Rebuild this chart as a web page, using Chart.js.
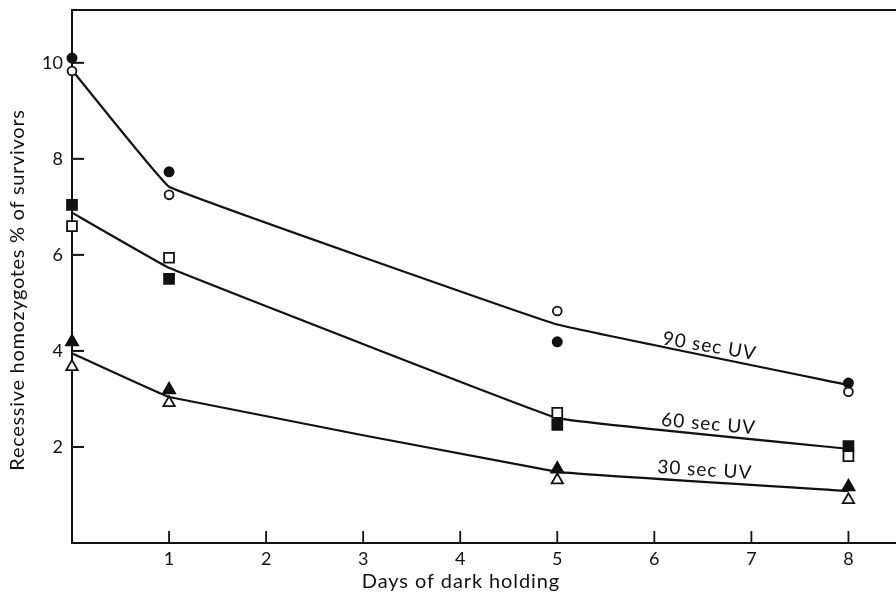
<!DOCTYPE html>
<html>
<head>
<meta charset="utf-8">
<script src="https://cdn.jsdelivr.net/npm/chart.js@4.4.1/dist/chart.umd.min.js"></script>
<style>
  html, body { margin: 0; padding: 0; background: #fff; }
  #wrap { width: 896px; height: 601px; }
  canvas { display: block; }
</style>
</head>
<body>
<div id="wrap"><canvas id="c" width="896" height="601"></canvas></div>
<script>
// Days of dark holding after UV exposure
const days = [0, 1, 5, 8];

// Recessive homozygotes (% of survivors), two replicate series per dose
const uv90Filled = [10.1, 7.73, 4.19, 3.33];
const uv90Open   = [9.83, 7.25, 4.83, 3.15];
const uv60Filled = [7.04, 5.5, 2.46, 2.02];
const uv60Open   = [6.6, 5.94, 2.71, 1.81];
const uv30Filled = [4.19, 3.19, 1.54, 1.17];
const uv30Open   = [3.67, 2.92, 1.31, 0.9];

// Fitted curves through each dose
const uv90Curve = [9.85, 7.42, 4.55, 3.29];
const uv60Curve = [6.88, 5.73, 2.6, 1.96];
const uv30Curve = [3.95, 3.04, 1.48, 1.08];

// Axis ticks
const xTickValues = [1, 2, 3, 4, 5, 6, 7, 8];
const yTickValues = [2, 4, 6, 8, 10];

// Curve labels, placed in data coordinates
const curveLabels     = ['90 sec UV', '60 sec UV', '30 sec UV'];
const curveLabelDay   = [6.57, 6.56, 6.52];
const curveLabelValue = [4.1, 2.48, 1.52];
const curveLabelAngle = [9.5, 5.2, 3.8];

const xTitle = 'Days of dark holding';
const yTitle = 'Recessive homozygotes % of survivors';

const FONT = 'Lato, "Open Sans", sans-serif';
const INK = '#111';

const pts = (ys) => days.map((d, i) => ({ x: d, y: ys[i] }));

function markerSet(ys, style, filled, radius) {
  return {
    data: pts(ys),
    showLine: false,
    pointStyle: style,
    pointRadius: radius,
    pointBackgroundColor: filled ? INK : '#fff',
    pointBorderColor: INK,
    pointBorderWidth: 1.8,
    clip: false,
    order: 1
  };
}

function curveSet(ys) {
  return {
    data: pts(ys),
    borderColor: INK,
    borderWidth: 2.2,
    pointRadius: 0,
    tension: 0.05,
    fill: false,
    clip: false,
    order: 2
  };
}

// Scales keep no extra padding for their labels, so the plot frame sits flush
function noScalePadding(s) {
  s.paddingTop = 0;
  s.paddingBottom = 0;
  s.paddingLeft = 0;
  s.paddingRight = 0;
}

// Inward tick marks, top frame line, axis titles and curve labels
const decorations = {
  id: 'decorations',
  afterDraw(chart) {
    const { ctx, chartArea: a, scales: { x, y } } = chart;
    ctx.save();
    ctx.strokeStyle = INK;
    ctx.lineCap = 'butt';

    ctx.lineWidth = 2;
    ctx.beginPath();
    ctx.moveTo(a.left - 1, a.top);
    ctx.lineTo(a.right, a.top);
    ctx.stroke();

    ctx.lineWidth = 2;
    yTickValues.forEach(v => {
      const py = y.getPixelForValue(v);
      ctx.beginPath();
      ctx.moveTo(a.left, py);
      ctx.lineTo(a.left + 12, py);
      ctx.stroke();
    });
    ctx.lineWidth = 1.8;
    xTickValues.forEach(v => {
      const px = x.getPixelForValue(v);
      ctx.beginPath();
      ctx.moveTo(px, a.bottom);
      ctx.lineTo(px, a.bottom - 12);
      ctx.stroke();
    });

    ctx.fillStyle = INK;
    ctx.textAlign = 'center';
    ctx.textBaseline = 'middle';
    ctx.font = '20px ' + FONT;
    ctx.letterSpacing = '0.9px';
    ctx.fillText(xTitle, 461, 582);

    ctx.save();
    ctx.translate(18, 290);
    ctx.rotate(-Math.PI / 2);
    ctx.letterSpacing = '0.7px';
    ctx.fillText(yTitle, 0, 0);
    ctx.restore();

    ctx.font = '19px ' + FONT;
    ctx.letterSpacing = '1px';
    curveLabels.forEach((t, i) => {
      const px = x.getPixelForValue(curveLabelDay[i]);
      const py = y.getPixelForValue(curveLabelValue[i]);
      ctx.save();
      ctx.translate(px, py);
      ctx.rotate(curveLabelAngle[i] * Math.PI / 180);
      ctx.fillText(t, 0, 0);
      ctx.restore();
    });
    ctx.restore();
  }
};

new Chart(document.getElementById('c'), {
  type: 'line',
  data: {
    datasets: [
      markerSet(uv90Filled, 'circle', true, 4.6),
      markerSet(uv90Open, 'circle', false, 4.4),
      markerSet(uv60Filled, 'rect', true, 7),
      markerSet(uv60Open, 'rect', false, 7),
      markerSet(uv30Filled, 'triangle', true, 7),
      markerSet(uv30Open, 'triangle', false, 6.6),
      curveSet(uv90Curve),
      curveSet(uv60Curve),
      curveSet(uv30Curve)
    ]
  },
  options: {
    responsive: false,
    devicePixelRatio: 1,
    animation: false,
    layout: { autoPadding: false, padding: { top: 10, right: 0, left: 0, bottom: 0 } },
    plugins: { legend: { display: false }, tooltip: { enabled: false } },
    scales: {
      x: {
        type: 'linear',
        min: 0,
        max: 8.49,
        afterBuildTicks: s => { s.ticks = xTickValues.map(v => ({ value: v })); },
        afterFit: s => { s.height = 58; noScalePadding(s); },
        ticks: { color: INK, font: { family: FONT, size: 18 }, padding: 5, maxRotation: 0, autoSkip: false },
        grid: { display: false, drawTicks: false },
        border: { display: true, color: INK, width: 2 }
      },
      y: {
        type: 'linear',
        min: 0,
        max: 11.1,
        afterBuildTicks: s => { s.ticks = yTickValues.map(v => ({ value: v })); },
        afterFit: s => { s.width = 72; noScalePadding(s); },
        ticks: { color: INK, font: { family: FONT, size: 18 }, padding: 9, autoSkip: false },
        grid: { display: false, drawTicks: false },
        border: { display: true, color: INK, width: 2 }
      }
    }
  },
  plugins: [decorations]
});
</script>
</body>
</html>
